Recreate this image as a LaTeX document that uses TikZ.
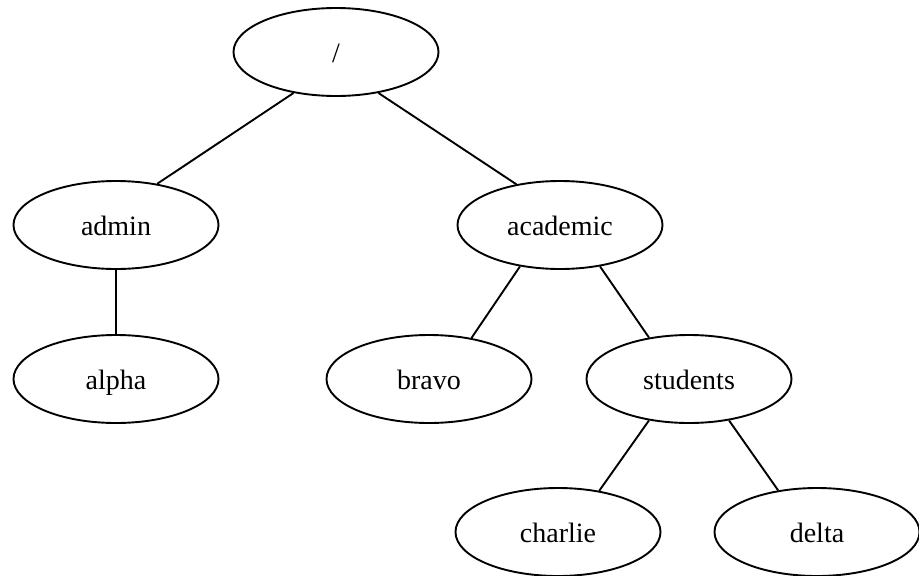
\documentclass[tikz,border=0pt]{standalone}
\usepackage{fontspec}
\setmainfont{Liberation Serif}
\usetikzlibrary{shapes.geometric}
\begin{document}
\begin{tikzpicture}[x=1pt,y=-1pt,
  treenode/.style={ellipse, draw, line width=1.9pt, minimum width=205pt,
    minimum height=88pt, inner sep=0pt, text height=22pt, text depth=2pt,
    font=\fontsize{28}{33}\selectfont},
  link/.style={line width=1.9pt}]
\useasboundingbox (0,0) rectangle (919,576);
% directory nodes
\node[treenode] (root)     at (336,52)  {/};
\node[treenode] (admin)    at (116,225) {admin};
\node[treenode] (academic) at (560,225) {academic};
\node[treenode] (alpha)    at (116,379) {alpha};
\node[treenode] (bravo)    at (429,379) {bravo};
\node[treenode] (students) at (689,379) {students};
\node[treenode] (charlie)  at (558,532) {charlie};
\node[treenode] (delta)    at (817,532) {delta};
% tree edges
\draw[link] (root.224) -- (admin.45);
\draw[link] (root.316) -- (academic.137);
\draw[link] (admin.south) -- (alpha.north);
\draw[link] (academic.226) -- (bravo.44);
\draw[link] (academic.314) -- (students.134);
\draw[link] (students.226) -- (charlie.45);
\draw[link] (students.314) -- (delta.133);
\end{tikzpicture}
\end{document}
